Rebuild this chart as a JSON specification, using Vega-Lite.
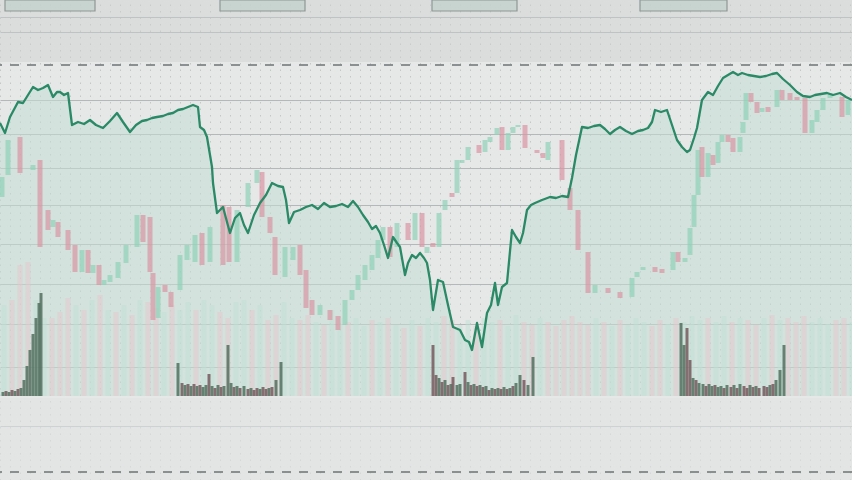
{
  "$schema": "https://vega.github.io/schema/vega-lite/v6.json",
  "width": 852,
  "height": 480,
  "padding": 0,
  "autosize": "none",
  "background": "#e6e8e8",
  "config": {"view": {"stroke": null}},
  "resolve": {"scale": {"color": "independent"}},
  "datasets": {
    "line": [
      {"x":0,"y":123},{"x":5,"y":133},{"x":10,"y":117},{"x":18,"y":102},{"x":23,"y":103},{"x":28,"y":95},{"x":33,"y":87},{"x":38,"y":90},{"x":43,"y":88},{"x":48,"y":85},{"x":53,"y":97},{"x":57,"y":92},{"x":60,"y":92},{"x":64,"y":95},{"x":68,"y":93},{"x":72,"y":125},{"x":78,"y":122},{"x":84,"y":124},{"x":90,"y":120},{"x":96,"y":125},{"x":103,"y":128},{"x":110,"y":121},{"x":117,"y":113},{"x":123,"y":122},{"x":130,"y":132},{"x":136,"y":125},{"x":142,"y":121},{"x":147,"y":120},{"x":152,"y":118},{"x":157,"y":117},{"x":163,"y":116},{"x":168,"y":114},{"x":173,"y":113},{"x":178,"y":110},{"x":183,"y":109},{"x":188,"y":107},{"x":193,"y":105},{"x":198,"y":107},{"x":200,"y":127},{"x":204,"y":130},{"x":207,"y":137},{"x":210,"y":155},{"x":212,"y":167},{"x":213,"y":183},{"x":217,"y":213},{"x":220,"y":210},{"x":223,"y":207},{"x":227,"y":222},{"x":230,"y":233},{"x":235,"y":218},{"x":240,"y":213},{"x":244,"y":225},{"x":248,"y":233},{"x":254,"y":215},{"x":260,"y":203},{"x":266,"y":195},{"x":272,"y":183},{"x":278,"y":186},{"x":283,"y":187},{"x":286,"y":200},{"x":289,"y":223},{"x":294,"y":212},{"x":300,"y":210},{"x":306,"y":207},{"x":312,"y":205},{"x":318,"y":209},{"x":324,"y":203},{"x":330,"y":207},{"x":336,"y":206},{"x":342,"y":204},{"x":348,"y":207},{"x":353,"y":201},{"x":358,"y":207},{"x":363,"y":215},{"x":368,"y":222},{"x":372,"y":229},{"x":376,"y":226},{"x":380,"y":233},{"x":384,"y":245},{"x":388,"y":258},{"x":393,"y":237},{"x":397,"y":243},{"x":400,"y":247},{"x":405,"y":275},{"x":408,"y":263},{"x":412,"y":255},{"x":416,"y":258},{"x":420,"y":253},{"x":424,"y":258},{"x":427,"y":263},{"x":430,"y":280},{"x":433,"y":310},{"x":438,"y":280},{"x":443,"y":282},{"x":448,"y":305},{"x":453,"y":327},{"x":460,"y":330},{"x":465,"y":340},{"x":469,"y":342},{"x":472,"y":350},{"x":477,"y":323},{"x":482,"y":347},{"x":487,"y":313},{"x":491,"y":305},{"x":495,"y":283},{"x":498,"y":305},{"x":502,"y":287},{"x":507,"y":283},{"x":512,"y":230},{"x":516,"y":237},{"x":520,"y":243},{"x":523,"y":233},{"x":527,"y":210},{"x":531,"y":205},{"x":535,"y":203},{"x":542,"y":200},{"x":550,"y":197},{"x":556,"y":198},{"x":562,"y":196},{"x":568,"y":197},{"x":572,"y":178},{"x":576,"y":155},{"x":582,"y":127},{"x":588,"y":128},{"x":594,"y":126},{"x":600,"y":125},{"x":605,"y":129},{"x":610,"y":134},{"x":615,"y":130},{"x":620,"y":127},{"x":626,"y":131},{"x":632,"y":134},{"x":638,"y":131},{"x":643,"y":130},{"x":648,"y":128},{"x":652,"y":122},{"x":655,"y":110},{"x":661,"y":112},{"x":667,"y":110},{"x":672,"y":125},{"x":677,"y":140},{"x":682,"y":147},{"x":687,"y":152},{"x":690,"y":150},{"x":694,"y":138},{"x":697,"y":128},{"x":702,"y":100},{"x":708,"y":92},{"x":713,"y":95},{"x":718,"y":86},{"x":723,"y":78},{"x":728,"y":75},{"x":733,"y":72},{"x":738,"y":75},{"x":742,"y":73},{"x":748,"y":75},{"x":754,"y":76},{"x":760,"y":77},{"x":766,"y":76},{"x":772,"y":74},{"x":777,"y":73},{"x":783,"y":79},{"x":790,"y":85},{"x":797,"y":92},{"x":803,"y":96},{"x":810,"y":97},{"x":815,"y":95},{"x":821,"y":94},{"x":827,"y":93},{"x":833,"y":95},{"x":840,"y":93},{"x":846,"y":97},{"x":852,"y":100}
    ],
    "candles": [
      {"x":2,"t":177,"b":197,"d":"u"},{"x":8,"t":140,"b":175,"d":"u"},{"x":20,"t":137,"b":173,"d":"d"},{"x":33,"t":165,"b":170,"d":"u"},{"x":40,"t":160,"b":247,"d":"d"},{"x":48,"t":210,"b":230,"d":"d"},{"x":53,"t":220,"b":227,"d":"u"},{"x":58,"t":222,"b":237,"d":"d"},{"x":68,"t":230,"b":250,"d":"d"},{"x":75,"t":245,"b":272,"d":"d"},{"x":82,"t":250,"b":272,"d":"u"},{"x":88,"t":250,"b":273,"d":"d"},{"x":93,"t":265,"b":273,"d":"u"},{"x":99,"t":265,"b":285,"d":"d"},{"x":104,"t":280,"b":285,"d":"u"},{"x":110,"t":275,"b":282,"d":"u"},{"x":118,"t":262,"b":278,"d":"u"},{"x":126,"t":245,"b":263,"d":"u"},{"x":137,"t":215,"b":247,"d":"u"},{"x":143,"t":215,"b":242,"d":"d"},{"x":150,"t":217,"b":272,"d":"d"},{"x":153,"t":273,"b":320,"d":"d"},{"x":158,"t":287,"b":318,"d":"u"},{"x":165,"t":285,"b":292,"d":"d"},{"x":171,"t":292,"b":307,"d":"d"},{"x":180,"t":255,"b":290,"d":"u"},{"x":187,"t":245,"b":260,"d":"u"},{"x":195,"t":235,"b":262,"d":"u"},{"x":202,"t":233,"b":265,"d":"d"},{"x":210,"t":227,"b":262,"d":"u"},{"x":223,"t":205,"b":265,"d":"d"},{"x":229,"t":207,"b":262,"d":"d"},{"x":237,"t":210,"b":262,"d":"u"},{"x":248,"t":183,"b":207,"d":"u"},{"x":257,"t":170,"b":183,"d":"u"},{"x":262,"t":172,"b":217,"d":"d"},{"x":270,"t":217,"b":233,"d":"d"},{"x":275,"t":237,"b":275,"d":"d"},{"x":285,"t":247,"b":277,"d":"u"},{"x":293,"t":247,"b":260,"d":"u"},{"x":300,"t":245,"b":275,"d":"d"},{"x":306,"t":270,"b":308,"d":"d"},{"x":312,"t":300,"b":315,"d":"d"},{"x":320,"t":305,"b":315,"d":"u"},{"x":330,"t":310,"b":320,"d":"d"},{"x":338,"t":316,"b":330,"d":"d"},{"x":345,"t":300,"b":325,"d":"u"},{"x":352,"t":290,"b":300,"d":"u"},{"x":358,"t":275,"b":290,"d":"u"},{"x":365,"t":265,"b":280,"d":"u"},{"x":372,"t":255,"b":270,"d":"u"},{"x":378,"t":240,"b":258,"d":"u"},{"x":383,"t":227,"b":240,"d":"u"},{"x":390,"t":227,"b":257,"d":"d"},{"x":397,"t":223,"b":247,"d":"u"},{"x":408,"t":223,"b":240,"d":"d"},{"x":415,"t":213,"b":240,"d":"u"},{"x":422,"t":213,"b":247,"d":"d"},{"x":427,"t":247,"b":253,"d":"u"},{"x":433,"t":243,"b":247,"d":"d"},{"x":439,"t":213,"b":247,"d":"u"},{"x":445,"t":200,"b":210,"d":"u"},{"x":452,"t":193,"b":197,"d":"d"},{"x":457,"t":160,"b":193,"d":"u"},{"x":462,"t":160,"b":163,"d":"u"},{"x":468,"t":147,"b":160,"d":"u"},{"x":479,"t":145,"b":153,"d":"d"},{"x":485,"t":140,"b":152,"d":"u"},{"x":490,"t":137,"b":142,"d":"u"},{"x":497,"t":128,"b":135,"d":"u"},{"x":502,"t":127,"b":150,"d":"d"},{"x":508,"t":133,"b":150,"d":"u"},{"x":513,"t":127,"b":133,"d":"u"},{"x":518,"t":125,"b":127,"d":"u"},{"x":525,"t":125,"b":148,"d":"d"},{"x":537,"t":150,"b":153,"d":"d"},{"x":543,"t":153,"b":158,"d":"d"},{"x":548,"t":142,"b":160,"d":"u"},{"x":562,"t":140,"b":180,"d":"d"},{"x":570,"t":188,"b":210,"d":"d"},{"x":578,"t":210,"b":250,"d":"d"},{"x":588,"t":252,"b":293,"d":"d"},{"x":595,"t":285,"b":293,"d":"u"},{"x":608,"t":288,"b":293,"d":"d"},{"x":620,"t":292,"b":298,"d":"d"},{"x":632,"t":278,"b":297,"d":"u"},{"x":637,"t":272,"b":277,"d":"u"},{"x":643,"t":267,"b":270,"d":"u"},{"x":655,"t":267,"b":272,"d":"d"},{"x":662,"t":269,"b":273,"d":"d"},{"x":673,"t":252,"b":270,"d":"u"},{"x":678,"t":252,"b":262,"d":"d"},{"x":685,"t":258,"b":262,"d":"u"},{"x":690,"t":228,"b":255,"d":"u"},{"x":694,"t":195,"b":227,"d":"u"},{"x":698,"t":150,"b":195,"d":"u"},{"x":702,"t":147,"b":177,"d":"d"},{"x":708,"t":153,"b":177,"d":"u"},{"x":713,"t":155,"b":165,"d":"d"},{"x":718,"t":142,"b":163,"d":"u"},{"x":722,"t":135,"b":142,"d":"u"},{"x":728,"t":135,"b":142,"d":"d"},{"x":733,"t":138,"b":152,"d":"d"},{"x":740,"t":137,"b":152,"d":"u"},{"x":743,"t":122,"b":133,"d":"u"},{"x":746,"t":93,"b":120,"d":"u"},{"x":751,"t":93,"b":102,"d":"d"},{"x":757,"t":102,"b":113,"d":"d"},{"x":762,"t":108,"b":112,"d":"u"},{"x":768,"t":107,"b":112,"d":"d"},{"x":777,"t":90,"b":107,"d":"u"},{"x":782,"t":90,"b":100,"d":"d"},{"x":790,"t":93,"b":100,"d":"d"},{"x":797,"t":97,"b":100,"d":"d"},{"x":805,"t":98,"b":133,"d":"d"},{"x":812,"t":120,"b":133,"d":"u"},{"x":817,"t":110,"b":122,"d":"u"},{"x":823,"t":98,"b":110,"d":"u"},{"x":830,"t":93,"b":98,"d":"u"},{"x":842,"t":97,"b":117,"d":"d"},{"x":848,"t":100,"b":115,"d":"u"}
    ],
    "vol": [
      {"x":4,"v":305,"d":"u"},{"x":12,"v":300,"d":"d"},{"x":20,"v":265,"d":"d"},{"x":28,"v":262,"d":"d"},{"x":36,"v":300,"d":"u"},{"x":44,"v":318,"d":"u"},{"x":52,"v":318,"d":"d"},{"x":60,"v":312,"d":"d"},{"x":68,"v":298,"d":"d"},{"x":76,"v":305,"d":"u"},{"x":84,"v":310,"d":"d"},{"x":92,"v":300,"d":"u"},{"x":100,"v":295,"d":"d"},{"x":108,"v":310,"d":"u"},{"x":116,"v":312,"d":"d"},{"x":124,"v":305,"d":"u"},{"x":132,"v":315,"d":"d"},{"x":140,"v":300,"d":"u"},{"x":148,"v":302,"d":"d"},{"x":156,"v":308,"d":"d"},{"x":164,"v":312,"d":"u"},{"x":172,"v":305,"d":"d"},{"x":180,"v":310,"d":"u"},{"x":188,"v":302,"d":"u"},{"x":196,"v":310,"d":"d"},{"x":204,"v":300,"d":"u"},{"x":212,"v":305,"d":"u"},{"x":220,"v":312,"d":"d"},{"x":228,"v":318,"d":"d"},{"x":236,"v":302,"d":"u"},{"x":244,"v":300,"d":"u"},{"x":252,"v":310,"d":"d"},{"x":260,"v":305,"d":"u"},{"x":268,"v":320,"d":"d"},{"x":276,"v":315,"d":"d"},{"x":284,"v":302,"d":"u"},{"x":292,"v":318,"d":"u"},{"x":300,"v":320,"d":"d"},{"x":308,"v":315,"d":"d"},{"x":316,"v":322,"d":"u"},{"x":324,"v":325,"d":"d"},{"x":332,"v":310,"d":"u"},{"x":340,"v":318,"d":"u"},{"x":348,"v":322,"d":"d"},{"x":356,"v":318,"d":"u"},{"x":364,"v":326,"d":"u"},{"x":372,"v":320,"d":"d"},{"x":380,"v":322,"d":"u"},{"x":388,"v":318,"d":"d"},{"x":396,"v":325,"d":"u"},{"x":404,"v":328,"d":"d"},{"x":412,"v":320,"d":"u"},{"x":420,"v":326,"d":"d"},{"x":428,"v":318,"d":"u"},{"x":436,"v":322,"d":"u"},{"x":444,"v":316,"d":"d"},{"x":452,"v":320,"d":"d"},{"x":460,"v":325,"d":"u"},{"x":468,"v":320,"d":"u"},{"x":476,"v":326,"d":"d"},{"x":484,"v":318,"d":"u"},{"x":492,"v":322,"d":"u"},{"x":500,"v":320,"d":"d"},{"x":508,"v":326,"d":"u"},{"x":516,"v":315,"d":"u"},{"x":524,"v":322,"d":"d"},{"x":532,"v":325,"d":"d"},{"x":540,"v":318,"d":"u"},{"x":548,"v":322,"d":"d"},{"x":556,"v":326,"d":"d"},{"x":564,"v":320,"d":"d"},{"x":572,"v":316,"d":"d"},{"x":580,"v":322,"d":"d"},{"x":588,"v":325,"d":"d"},{"x":596,"v":318,"d":"u"},{"x":604,"v":322,"d":"d"},{"x":612,"v":326,"d":"u"},{"x":620,"v":320,"d":"d"},{"x":628,"v":325,"d":"u"},{"x":636,"v":318,"d":"u"},{"x":644,"v":322,"d":"u"},{"x":652,"v":326,"d":"d"},{"x":660,"v":320,"d":"d"},{"x":668,"v":324,"d":"u"},{"x":676,"v":318,"d":"d"},{"x":684,"v":322,"d":"u"},{"x":692,"v":316,"d":"u"},{"x":700,"v":320,"d":"u"},{"x":708,"v":318,"d":"d"},{"x":716,"v":322,"d":"u"},{"x":724,"v":316,"d":"u"},{"x":732,"v":322,"d":"d"},{"x":740,"v":318,"d":"u"},{"x":748,"v":320,"d":"d"},{"x":756,"v":325,"d":"d"},{"x":764,"v":318,"d":"u"},{"x":772,"v":315,"d":"d"},{"x":780,"v":320,"d":"u"},{"x":788,"v":318,"d":"d"},{"x":796,"v":322,"d":"d"},{"x":804,"v":316,"d":"d"},{"x":812,"v":322,"d":"u"},{"x":820,"v":318,"d":"u"},{"x":828,"v":324,"d":"u"},{"x":836,"v":320,"d":"d"},{"x":844,"v":318,"d":"d"},{"x":852,"v":322,"d":"u"}
    ],
    "dark": [
      {"x":3,"v":392,"d":"u"},{"x":6,"v":391,"d":"d"},{"x":9,"v":392,"d":"u"},{"x":12,"v":390,"d":"d"},{"x":15,"v":391,"d":"u"},{"x":18,"v":389,"d":"d"},{"x":21,"v":388,"d":"u"},{"x":24,"v":380,"d":"u"},{"x":27,"v":366,"d":"u"},{"x":30,"v":350,"d":"u"},{"x":33,"v":334,"d":"u"},{"x":36,"v":318,"d":"u"},{"x":39,"v":303,"d":"u"},{"x":41,"v":293,"d":"u"},
      {"x":178,"v":363,"d":"u"},{"x":182,"v":383,"d":"d"},{"x":185,"v":385,"d":"u"},{"x":188,"v":384,"d":"d"},{"x":191,"v":386,"d":"u"},{"x":194,"v":384,"d":"d"},{"x":197,"v":386,"d":"u"},{"x":200,"v":385,"d":"d"},{"x":203,"v":387,"d":"u"},{"x":206,"v":385,"d":"u"},{"x":209,"v":374,"d":"d"},{"x":212,"v":386,"d":"u"},{"x":215,"v":388,"d":"d"},{"x":218,"v":385,"d":"u"},{"x":221,"v":387,"d":"d"},{"x":224,"v":386,"d":"u"},{"x":228,"v":345,"d":"u"},{"x":231,"v":383,"d":"u"},{"x":234,"v":387,"d":"d"},{"x":237,"v":386,"d":"u"},{"x":240,"v":388,"d":"d"},{"x":244,"v":386,"d":"u"},{"x":248,"v":389,"d":"d"},{"x":251,"v":388,"d":"u"},{"x":254,"v":390,"d":"d"},{"x":257,"v":388,"d":"d"},{"x":260,"v":389,"d":"u"},{"x":263,"v":387,"d":"d"},{"x":266,"v":389,"d":"d"},{"x":269,"v":388,"d":"u"},{"x":272,"v":387,"d":"d"},{"x":276,"v":380,"d":"u"},{"x":281,"v":362,"d":"u"},
      {"x":433,"v":345,"d":"d"},{"x":436,"v":375,"d":"d"},{"x":439,"v":378,"d":"u"},{"x":442,"v":382,"d":"d"},{"x":445,"v":380,"d":"u"},{"x":448,"v":385,"d":"d"},{"x":451,"v":384,"d":"u"},{"x":453,"v":377,"d":"d"},{"x":457,"v":385,"d":"u"},{"x":460,"v":384,"d":"u"},{"x":465,"v":372,"d":"d"},{"x":468,"v":382,"d":"u"},{"x":471,"v":385,"d":"d"},{"x":474,"v":384,"d":"u"},{"x":477,"v":386,"d":"d"},{"x":480,"v":385,"d":"u"},{"x":483,"v":387,"d":"d"},{"x":486,"v":386,"d":"u"},{"x":489,"v":390,"d":"d"},{"x":492,"v":388,"d":"u"},{"x":495,"v":389,"d":"d"},{"x":498,"v":388,"d":"u"},{"x":501,"v":389,"d":"d"},{"x":504,"v":387,"d":"u"},{"x":507,"v":389,"d":"d"},{"x":510,"v":388,"d":"u"},{"x":513,"v":386,"d":"d"},{"x":516,"v":383,"d":"u"},{"x":520,"v":375,"d":"u"},{"x":524,"v":380,"d":"d"},{"x":528,"v":385,"d":"u"},{"x":533,"v":357,"d":"u"},
      {"x":681,"v":323,"d":"u"},{"x":684,"v":345,"d":"u"},{"x":687,"v":328,"d":"d"},{"x":690,"v":360,"d":"d"},{"x":693,"v":378,"d":"u"},{"x":696,"v":380,"d":"d"},{"x":699,"v":383,"d":"u"},{"x":703,"v":384,"d":"u"},{"x":706,"v":386,"d":"d"},{"x":709,"v":384,"d":"u"},{"x":712,"v":386,"d":"u"},{"x":715,"v":385,"d":"d"},{"x":718,"v":387,"d":"u"},{"x":721,"v":386,"d":"u"},{"x":724,"v":388,"d":"d"},{"x":727,"v":385,"d":"u"},{"x":731,"v":387,"d":"d"},{"x":734,"v":385,"d":"u"},{"x":737,"v":388,"d":"d"},{"x":740,"v":384,"d":"u"},{"x":744,"v":386,"d":"d"},{"x":747,"v":388,"d":"d"},{"x":750,"v":385,"d":"u"},{"x":753,"v":387,"d":"d"},{"x":756,"v":386,"d":"u"},{"x":759,"v":388,"d":"d"},{"x":764,"v":386,"d":"d"},{"x":767,"v":387,"d":"d"},{"x":770,"v":385,"d":"u"},{"x":773,"v":384,"d":"d"},{"x":776,"v":380,"d":"u"},{"x":780,"v":370,"d":"u"},{"x":784,"v":345,"d":"u"}
    ],
    "boxes": [
      {"x":5,"x2":95},{"x":220,"x2":305},{"x":432,"x2":517},{"x":640,"x2":727}
    ],
    "one": [{"k":1}],
    "dashes": [{"y":65},{"y":472}]
  },
  "layer": [
    {
      "data": {"name": "one"},
      "mark": {"type": "rect", "color": "#cfd1d1", "opacity": 0.45},
      "encoding": {
        "x": {"datum": 0, "type": "quantitative", "scale": {"domain": [0, 852], "nice": false, "zero": false, "padding": 0}, "axis": {"labels": false, "ticks": false, "domain": false, "title": null, "grid": true, "tickCount": 85, "gridDash": [1.5, 5], "gridColor": "#b9bcbc", "gridOpacity": 0.75}},
        "x2": {"datum": 852},
        "y": {"datum": 0, "type": "quantitative", "scale": {"domain": [0, 480], "reverse": true, "nice": false, "zero": false, "padding": 0}, "axis": {"labels": false, "ticks": false, "domain": false, "title": null, "grid": true, "values": [17, 32, 100, 134, 168, 205, 244, 284, 324, 367, 426], "gridColor": "#b5b8b8", "gridWidth": 1.2}},
        "y2": {"datum": 62}
      }
    },
    {
      "data": {"name": "one"},
      "mark": {"type": "rect", "color": "#e1e2e2", "opacity": 0.6},
      "encoding": {
        "x": {"datum": 0, "type": "quantitative"},
        "x2": {"datum": 852},
        "y": {"datum": 398, "type": "quantitative"},
        "y2": {"datum": 480}
      }
    },
    {
      "data": {"name": "boxes"},
      "mark": {"type": "rect", "fill": "#c4d2cd", "stroke": "#7d8783", "strokeWidth": 1.2, "opacity": 0.8},
      "encoding": {
        "x": {"field": "x", "type": "quantitative"},
        "x2": {"field": "x2"},
        "y": {"datum": 0, "type": "quantitative"},
        "y2": {"datum": 11}
      }
    },
    {
      "data": {"name": "line"},
      "mark": {"type": "area", "color": "#c2ddd2", "opacity": 0.55},
      "encoding": {
        "x": {"field": "x", "type": "quantitative"},
        "y": {"field": "y", "type": "quantitative"},
        "y2": {"datum": 396}
      }
    },
    {
      "data": {"name": "vol"},
      "mark": {"type": "bar", "width": 5, "opacity": 0.5},
      "encoding": {
        "x": {"field": "x", "type": "quantitative"},
        "y": {"field": "v", "type": "quantitative"},
        "y2": {"datum": 396},
        "color": {"field": "d", "type": "nominal", "scale": {"domain": ["u", "d"], "range": ["#bfe0d3", "#e8c6cd"]}, "legend": null}
      }
    },
    {
      "data": {"name": "candles"},
      "mark": {"type": "bar", "width": 5, "opacity": 0.7},
      "encoding": {
        "x": {"field": "x", "type": "quantitative"},
        "y": {"field": "t", "type": "quantitative"},
        "y2": {"field": "b"},
        "color": {"field": "d", "type": "nominal", "scale": {"domain": ["u", "d"], "range": ["#8fd1b8", "#d995a3"]}, "legend": null}
      }
    },
    {
      "data": {"name": "dark"},
      "mark": {"type": "bar", "width": 3, "opacity": 0.85},
      "encoding": {
        "x": {"field": "x", "type": "quantitative"},
        "y": {"field": "v", "type": "quantitative"},
        "y2": {"datum": 396},
        "color": {"field": "d", "type": "nominal", "scale": {"domain": ["u", "d"], "range": ["#52705f", "#76595e"]}, "legend": null}
      }
    },
    {
      "data": {"name": "line"},
      "mark": {"type": "line", "color": "#2a8a67", "strokeWidth": 2.3, "strokeJoin": "round"},
      "encoding": {
        "x": {"field": "x", "type": "quantitative"},
        "y": {"field": "y", "type": "quantitative"}
      }
    },
    {
      "data": {"name": "dashes"},
      "mark": {"type": "rule", "color": "#6e7473", "strokeWidth": 1.6, "strokeDash": [9, 8]},
      "encoding": {
        "y": {"field": "y", "type": "quantitative"}
      }
    }
  ]
}
